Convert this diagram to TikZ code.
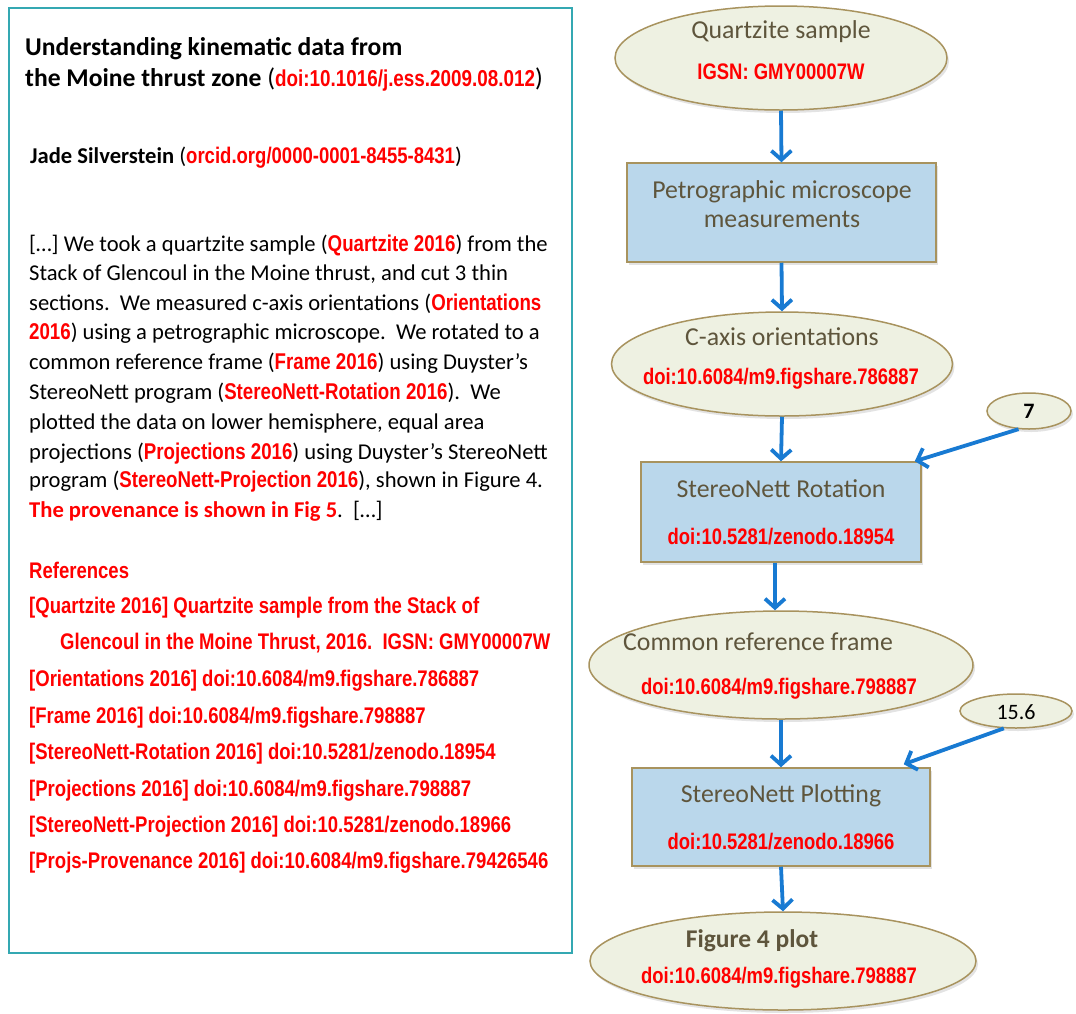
\documentclass[tikz,border=0pt]{standalone}
\usepackage{fontspec}
\setmainfont{Carlito}
\newfontfamily\narb[FakeStretch=0.82]{Liberation Sans Bold}
\usetikzlibrary{shapes.geometric,arrows.meta,shadows,calc}
\definecolor{ellf}{RGB}{238,241,226}
\definecolor{tanb}{RGB}{168,147,94}
\definecolor{boxf}{RGB}{186,215,235}
\definecolor{txtg}{RGB}{94,85,60}
\definecolor{arrblue}{RGB}{24,122,210}
\definecolor{frameteal}{RGB}{52,168,178}
\definecolor{redt}{RGB}{255,0,0}
\newcommand\rd[1]{{\narb\color{redt}#1}}
\newcommand\rdp[1]{{\narb\fontsize{22.8}{26}\selectfont\color{redt}#1}}
\begin{document}
\begin{tikzpicture}[x=1pt,y=-1pt,
  ell/.style={ellipse, draw=tanb, line width=1.5pt, fill=ellf, inner sep=0pt,
    drop shadow={opacity=0.22,shadow xshift=2pt,shadow yshift=-3pt}},
  procbox/.style={rectangle, draw=tanb, line width=1.5pt, fill=boxf, inner sep=0pt,
    drop shadow={opacity=0.22,shadow xshift=2pt,shadow yshift=-3pt}},
  arr/.style={draw=arrblue, line width=3.8pt, -{Straight Barb[length=9pt,width=20pt]}},
  para/.style={anchor=mid west, inner sep=0pt, font=\fontsize{22.6}{26}\selectfont},
  refl/.style={anchor=mid west, inner sep=0pt, text=redt, font=\narb\fontsize{22.6}{26}\selectfont},
  flowt/.style={anchor=mid, inner sep=0pt, text=txtg, font=\fontsize{25.8}{30}\selectfont},
  flowr/.style={anchor=mid, inner sep=0pt, text=redt, font=\narb\fontsize{22.5}{26}\selectfont},
]
\useasboundingbox (0,0) rectangle (1076,1013);
\fill[white] (0,0) rectangle (1076,1013);

% ---------- left text box ----------
\draw[frameteal, line width=1.5pt] (9,8) rectangle (572,953);

\node[anchor=mid west, inner sep=0pt, font=\bfseries\fontsize{25.6}{30}\selectfont] (t1) at (25,53) {Understanding kinematic data from};
\node[anchor=mid west, inner sep=0pt, font=\bfseries\fontsize{25.6}{30}\selectfont] (t2) at (25,84) {the Moine thrust zone {\mdseries(\rd{\fontsize{23}{27}\selectfont doi:10.1016/j.ess.2009.08.012})}};
\node[anchor=mid west, inner sep=0pt, font=\bfseries\fontsize{22.6}{26}\selectfont] (au) at (30,161) {Jade Silverstein {\mdseries(\rd{orcid.org/0000-0001-8455-8431})}};

\node[para] (p1) at (29,249) {[…] We took a quartzite sample (\rdp{Quartzite 2016}) from the};
\node[para] (p2) at (29,278) {Stack of Glencoul in the Moine thrust, and cut 3 thin};
\node[para] (p3) at (29,308) {sections.\ \ We measured c-axis orientations (\rdp{Orientations}};
\node[para] (p4) at (29,337) {\rdp{2016}) using a petrographic microscope.\ \ We rotated to a};
\node[para] (p5) at (29,367) {common reference frame (\rdp{Frame 2016}) using Duyster’s};
\node[para] (p6) at (29,397) {StereoNett program (\rdp{StereoNett-Rotation 2016}).\ \ We};
\node[para] (p7) at (29,427) {plotted the data on lower hemisphere, equal area};
\node[para] (p8) at (29,457) {projections (\rdp{Projections 2016}) using Duyster’s StereoNett};
\node[para] (p9) at (29,485) {program (\rdp{StereoNett-Projection 2016}), shown in Figure 4.};
\node[para] (p10) at (29,515) {{\bfseries\color{redt}The provenance is shown in Fig 5}.\ \ […]};

\node[refl] (r0) at (29,576) {References};
\node[refl] (r1) at (29,611) {[Quartzite 2016] Quartzite sample from the Stack of};
\node[refl] (r2) at (60,647) {Glencoul in the Moine Thrust, 2016.\ \ IGSN: GMY00007W};
\node[refl] (r3) at (29,684) {[Orientations 2016] doi:10.6084/m9.figshare.786887};
\node[refl] (r4) at (29,721) {[Frame 2016] doi:10.6084/m9.figshare.798887};
\node[refl] (r5) at (29,757) {[StereoNett-Rotation 2016] doi:10.5281/zenodo.18954};
\node[refl] (r6) at (29,794) {[Projections 2016] doi:10.6084/m9.figshare.798887};
\node[refl] (r7) at (29,830) {[StereoNett-Projection 2016] doi:10.5281/zenodo.18966};
\node[refl] (r8) at (29,866) {[Projs-Provenance 2016] doi:10.6084/m9.figshare.79426546};

% ---------- flowchart ----------
\node[ell, minimum width=332pt, minimum height=104pt] (e1) at (781,58) {};
\node[procbox, minimum width=309pt, minimum height=99pt] (b1) at (781.5,212.5) {};
\node[ell, minimum width=341pt, minimum height=104pt] (e2) at (782,364) {};
\node[procbox, minimum width=280pt, minimum height=100pt] (b2) at (781,512) {};
\node[ell, minimum width=84pt, minimum height=36pt] (s7) at (1029,411) {};
\node[ell, minimum width=384pt, minimum height=108pt] (e3) at (781,665) {};
\node[ell, minimum width=112pt, minimum height=34pt] (s15) at (1016,711) {};
\node[procbox, minimum width=298pt, minimum height=98pt] (b3) at (781,817) {};
\node[ell, minimum width=386pt, minimum height=98pt] (e4) at (783,961) {};

\node[flowt] (e1a) at (781,36) {Quartzite sample};
\node[flowr] (e1b) at (781,77) {IGSN: GMY00007W};
\node[flowt] (b1a) at (782,196) {Petrographic microscope};
\node[flowt] (b1b) at (782,225) {measurements};
\node[flowt] (e2a) at (782,343) {C-axis orientations};
\node[flowr] (e2b) at (781,382) {doi:10.6084/m9.figshare.786887};
\node[flowt] (b2a) at (781,495) {StereoNett Rotation};
\node[flowr] (b2b) at (781,542) {doi:10.5281/zenodo.18954};
\node[anchor=mid, inner sep=0pt, font=\bfseries\fontsize{22}{26}\selectfont] (s7t) at (1029,416) {7};
\node[flowt] (e3a) at (758,648) {Common reference frame};
\node[flowr] (e3b) at (779,692) {doi:10.6084/m9.figshare.798887};
\node[anchor=mid, inner sep=0pt, font=\fontsize{22}{26}\selectfont] (s15t) at (1016,717) {15.6};
\node[flowt] (b3a) at (781,800) {StereoNett Plotting};
\node[flowr] (b3b) at (781,847) {doi:10.5281/zenodo.18966};
\node[flowt, font=\bfseries\fontsize{25.5}{30}\selectfont] (e4a) at (752,945) {Figure 4 plot};
\node[flowr] (e4b) at (779,981) {doi:10.6084/m9.figshare.798887};

\draw[arr] (e1.south) -- (b1.north);
\draw[arr] (b1.south) -- (e2.north);
\draw[arr] (e2.south) -- (b2.north);
\draw[arr] ([xshift=-6pt]b2.south) -- ([xshift=-6pt]e3.north);
\draw[arr] (e3.south) -- (b3.north);
\draw[arr] (b3.south) -- (e4.north);
\draw[arr] (s7.240) -- ([xshift=-7pt]b2.north east);
\draw[arr] (s15.235) -- ([xshift=-27pt,yshift=3pt]b3.north east);
\end{tikzpicture}
\end{document}
